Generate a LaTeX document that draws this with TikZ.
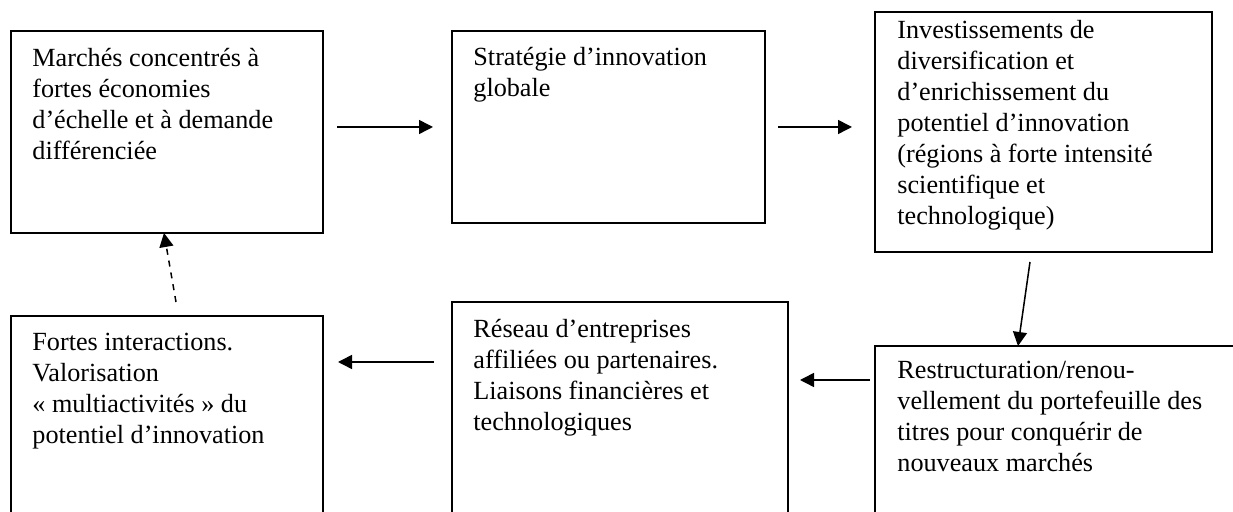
\documentclass[tikz,border=0pt]{standalone}
\usepackage{fontspec}
\setmainfont{Liberation Serif}
\usetikzlibrary{arrows.meta}

\begin{document}
\begin{tikzpicture}[
		x=0.5pt, y=-0.5pt,
		box/.style={rectangle, draw, line width=0.9pt, anchor=north west, inner sep=0pt, outer sep=0pt},
		txt/.style={anchor=north west, align=left, inner sep=0pt, font=\fontsize{13.1}{15.5}\selectfont},
		arr/.style={-{Triangle[length=7pt,width=7pt]}, line width=0.75pt}
	]
	\useasboundingbox (0,0) rectangle (1233,512);
	\clip (0,0) rectangle (1233,512);

	% top row
	\node[box, minimum width=156pt, minimum height=101pt] (b1) at (11,31) {};
	\node[box, minimum width=156.5pt, minimum height=96pt] (b2) at (452,31) {};
	\node[box, minimum width=168.5pt, minimum height=120pt] (b3) at (875,12) {};
	% bottom row
	\node[box, minimum width=200pt, minimum height=100pt] (b4) at (875,346) {};
	\node[box, minimum width=168pt, minimum height=125pt] (b5) at (452,302) {};
	\node[box, minimum width=156pt, minimum height=125pt] (b6) at (11,316) {};

	\node[txt] (t1) at ([shift={(10.5pt,-6.65pt)}]b1.north west) {\strut Marchés concentrés à\\fortes économies\\d’échelle et à demande\\différenciée};
	\node[txt] (t2) at ([shift={(10.5pt,-6.15pt)}]b2.north west) {\strut Stratégie d’innovation\\globale};
	\node[txt] (t3) at ([shift={(11pt,-2.15pt)}]b3.north west) {\strut Investissements de\\diversification et\\d’enrichissement du\\potentiel d’innovation\\(régions à forte intensité\\scientifique et\\technologique)};
	\node[txt] (t4) at ([shift={(11pt,-5.15pt)}]b4.north west) {\strut Restructuration/renou-\\vellement du portefeuille des\\titres pour conquérir de\\nouveaux marchés};
	\node[txt] (t5) at ([shift={(10.5pt,-6.65pt)}]b5.north west) {\strut Réseau d’entreprises\\affiliées ou partenaires.\\Liaisons financières et\\technologiques};
	\node[txt] (t6) at ([shift={(10.5pt,-6.15pt)}]b6.north west) {\strut Fortes interactions.\\Valorisation\\« multiactivités » du\\potentiel d’innovation};

	\draw[arr, shorten <=7pt, shorten >=9.5pt] (b1.east |- b2.west) -- (b2.west);
	\draw[arr, shorten <=6.5pt, shorten >=11.5pt] (b2.east) -- (b3.west |- b2.east);
	\draw[arr] ([shift={(-6.75pt,-5pt)}]b3.south) -- ([xshift=71.5pt]b4.north west);
	\draw[arr] ([shift={(-2.5pt,-17pt)}]b4.north west) -- ([shift={(6pt,-39pt)}]b5.north east);
	\draw[arr] ([shift={(-9pt,-30pt)}]b5.north west) -- ([shift={(7.5pt,-23pt)}]b6.north east);
	\draw[arr, dashed] ([shift={(4.5pt,7pt)}]b6.north) -- ([xshift=-1.5pt]b1.south);
\end{tikzpicture}
\end{document}
